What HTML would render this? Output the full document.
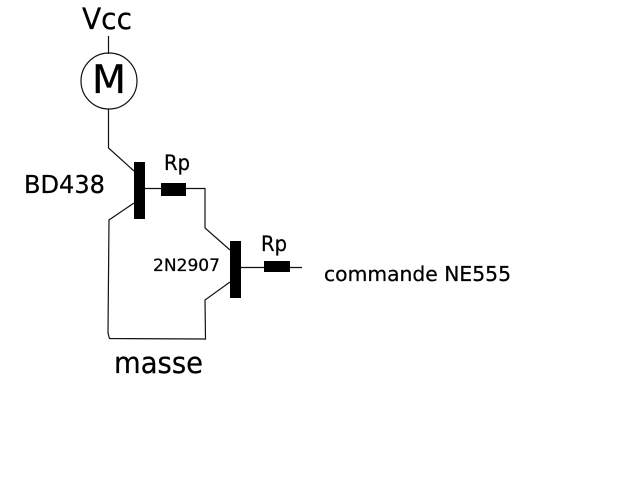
<!DOCTYPE html>
<html>
<head>
<meta charset="utf-8">
<style>
html,body{margin:0;padding:0;background:#fff}
svg{display:block}
text{font-family:"DejaVu Sans","Liberation Sans",sans-serif;fill:#000;stroke:#000;stroke-width:.25}
</style>
</head>
<body>
<svg width="632" height="480" viewBox="0 0 632 480" xmlns="http://www.w3.org/2000/svg">
<rect width="632" height="480" fill="#fff"/>
<g fill="none" stroke="#111" stroke-width="1.2">
<circle cx="109" cy="81" r="28"/>
<path d="M108.500 36V54"/>
<path d="M108.500 109V148L134 171"/>
<path d="M145 188.500H205V228L230 250"/>
<path d="M134 203L109 220L108 333L109.500 338.500L205.500 339L205 300L230 282"/>
<path d="M241 267.500H302"/>
</g>
<g fill="#000">
<rect x="134" y="162" width="11" height="57"/>
<rect x="161" y="183" width="25" height="13"/>
<rect x="230" y="241" width="11" height="57"/>
<rect x="264" y="261" width="26" height="11"/>
</g>
<text x="82" y="29" font-size="29" textLength="50" lengthAdjust="spacingAndGlyphs">Vcc</text>
<text x="92" y="93" font-size="39" textLength="34" lengthAdjust="spacingAndGlyphs">M</text>
<text x="24" y="193" font-size="25" textLength="81" lengthAdjust="spacingAndGlyphs">BD438</text>
<text x="164" y="170" font-size="21" textLength="26" lengthAdjust="spacingAndGlyphs">Rp</text>
<text x="261" y="251" font-size="21" textLength="26" lengthAdjust="spacingAndGlyphs">Rp</text>
<text x="153" y="271" font-size="17" textLength="67" lengthAdjust="spacingAndGlyphs">2N2907</text>
<text x="324" y="281" font-size="20" textLength="187" lengthAdjust="spacingAndGlyphs">commande NE555</text>
<text x="114" y="373" font-size="29" textLength="89" lengthAdjust="spacingAndGlyphs">masse</text>
</svg>
</body>
</html>
